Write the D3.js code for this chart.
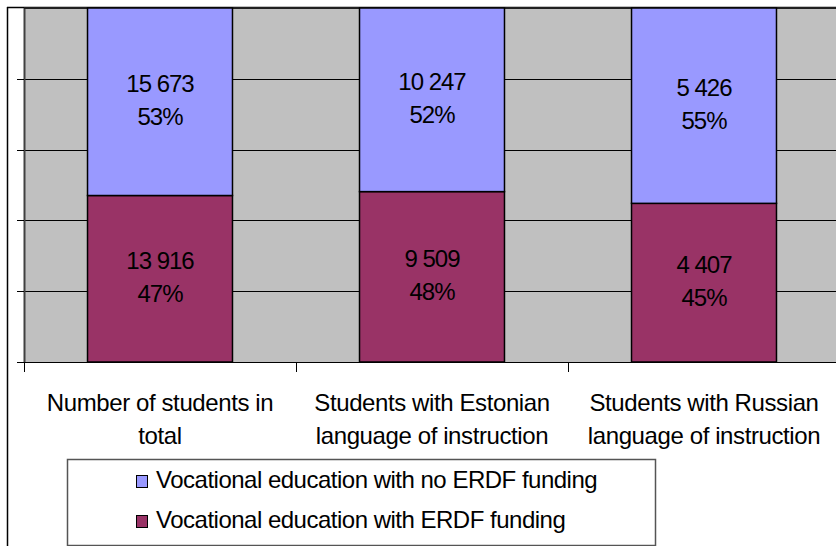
<!DOCTYPE html>
<html>
<meta charset="utf-8">
<head>
  <script src="https://d3js.org/d3.v7.min.js"></script>
</head>
<style>
  body {
    margin: 0;
    background-color: white;
    font-family: 'Liberation Sans', Arial, sans-serif;
  }
  text { fill: black; }
</style>
<body>
<script>
  // data
  var categories = [
    ["Number of students in", "total"],
    ["Students with Estonian", "language of instruction"],
    ["Students with Russian", "language of instruction"]
  ];
  var seriesNames = [
    "Vocational education with no ERDF funding",
    "Vocational education with ERDF funding"
  ];
  var withErdf = [13916, 9509, 4407];
  var noErdf = [15673, 10247, 5426];
  var withErdfPct = ["47%", "48%", "45%"];
  var noErdfPct = ["53%", "52%", "55%"];
  var colors = ["#9999FF", "#993366"];

  var w = 836, h = 546;
  var svg = d3.select("body").append("svg")
    .attr("width", w)
    .attr("height", h);

  // plot area edges (right edge runs past the window)
  var pLeft = 24, pRight = 840, pTop = 8, pBottom = 362;

  var x = d3.scaleBand()
    .domain(d3.range(categories.length))
    .range([pLeft, pRight])
    .paddingInner(0.467)
    .paddingOuter(0.2335);

  var y = d3.scaleLinear().domain([0, 1]).range([pBottom, pTop]);

  // chart border (only left and top visible)
  svg.append("line").attr("x1", 7.5).attr("x2", 7.5).attr("y1", 7).attr("y2", h)
    .attr("stroke", "black").attr("stroke-width", 1.5);
  svg.append("line").attr("x1", 7).attr("x2", w).attr("y1", 7.5).attr("y2", 7.5)
    .attr("stroke", "black").attr("stroke-width", 1.5);

  // plot area
  svg.append("rect")
    .attr("x", pLeft).attr("y", pTop)
    .attr("width", pRight - pLeft).attr("height", pBottom - pTop)
    .attr("fill", "#C0C0C0");

  var grid = [0.2, 0.4, 0.6, 0.8];

  // gridlines
  svg.append("g").selectAll("line")
    .data(grid)
    .enter().append("line")
    .attr("x1", pLeft).attr("x2", pRight)
    .attr("y1", function(d) { return Math.round(y(d)) + 0.5; })
    .attr("y2", function(d) { return Math.round(y(d)) + 0.5; })
    .attr("stroke", "black").attr("stroke-width", 1);

  // plot area border
  svg.append("line").attr("x1", pLeft + 0.5).attr("x2", pLeft + 0.5).attr("y1", pTop).attr("y2", pBottom)
    .attr("stroke", "#404040").attr("stroke-width", 2);
  svg.append("line").attr("x1", pLeft).attr("x2", pRight).attr("y1", pTop).attr("y2", pTop)
    .attr("stroke", "#202020").attr("stroke-width", 2);

  // stacked bars
  var segs = [];
  categories.forEach(function(c, i) {
    var total = withErdf[i] + noErdf[i];
    segs.push({ i: i, y0: 0, y1: withErdf[i] / total, v: withErdf[i], p: withErdfPct[i], c: colors[1] });
    segs.push({ i: i, y0: withErdf[i] / total, y1: 1, v: noErdf[i], p: noErdfPct[i], c: colors[0] });
  });

  svg.append("g").selectAll("rect")
    .data(segs)
    .enter().append("rect")
    .attr("x", function(d) { return x(d.i); })
    .attr("y", function(d) { return y(d.y1); })
    .attr("width", x.bandwidth())
    .attr("height", function(d) { return y(d.y0) - y(d.y1); })
    .attr("fill", function(d) { return d.c; })
    .attr("stroke", "black")
    .attr("stroke-width", 1.5);

  var fmt = function(v) { return d3.format(",")(v).replace(",", " "); };

  // two-line labels centred in each segment
  var lab = svg.append("g").selectAll("text")
    .data(segs)
    .enter().append("text")
    .attr("text-anchor", "middle")
    .attr("font-size", "24px")
    .attr("letter-spacing", "-1px")
    .attr("y", function(d) { return (y(d.y0) + y(d.y1)) / 2 - 10; });
  lab.append("tspan")
    .attr("x", function(d) { return x(d.i) + x.bandwidth() / 2; })
    .text(function(d) { return fmt(d.v); });
  lab.append("tspan")
    .attr("x", function(d) { return x(d.i) + x.bandwidth() / 2; })
    .attr("dy", 33)
    .text(function(d) { return d.p; });

  // axis lines and ticks
  svg.append("line").attr("x1", pLeft - 7).attr("x2", pRight).attr("y1", pBottom + 0.5).attr("y2", pBottom + 0.5)
    .attr("stroke", "black").attr("stroke-width", 1.2);
  svg.append("g").selectAll("line")
    .data(grid)
    .enter().append("line")
    .attr("x1", pLeft - 7).attr("x2", pLeft)
    .attr("y1", function(d) { return Math.round(y(d)) + 0.5; })
    .attr("y2", function(d) { return Math.round(y(d)) + 0.5; })
    .attr("stroke", "black");
  svg.append("g").selectAll("line")
    .data(d3.range(categories.length + 1))
    .enter().append("line")
    .attr("x1", function(d) { return pLeft + d * x.step() + 0.5; })
    .attr("x2", function(d) { return pLeft + d * x.step() + 0.5; })
    .attr("y1", pBottom).attr("y2", pBottom + 10)
    .attr("stroke", "black");

  // category labels
  var cl = svg.append("g").selectAll("text")
    .data(categories)
    .enter().append("text")
    .attr("text-anchor", "middle")
    .attr("font-size", "24px")
    .attr("letter-spacing", "-0.4px")
    .attr("y", 411);
  cl.each(function(d, i) {
    var t = d3.select(this);
    d.forEach(function(line, j) {
      t.append("tspan")
        .attr("x", x(i) + x.bandwidth() / 2)
        .attr("dy", j === 0 ? 0 : 33)
        .text(line);
    });
  });

  // legend
  var lg = svg.append("g");
  lg.append("rect")
    .attr("x", 67.5).attr("y", 459.5)
    .attr("width", 588).attr("height", 86)
    .attr("fill", "white").attr("stroke", "#555").attr("stroke-width", 1.5);
  seriesNames.forEach(function(s, i) {
    lg.append("rect")
      .attr("x", 136.5).attr("y", 475.5 + i * 40)
      .attr("width", 11).attr("height", 12)
      .attr("fill", colors[i]).attr("stroke", "black").attr("stroke-width", 1);
    lg.append("text")
      .attr("x", 156).attr("y", 488 + i * 40)
      .attr("font-size", "24px")
      .attr("letter-spacing", "-0.5px")
      .text(s);
  });
</script>
</body>
</html>
